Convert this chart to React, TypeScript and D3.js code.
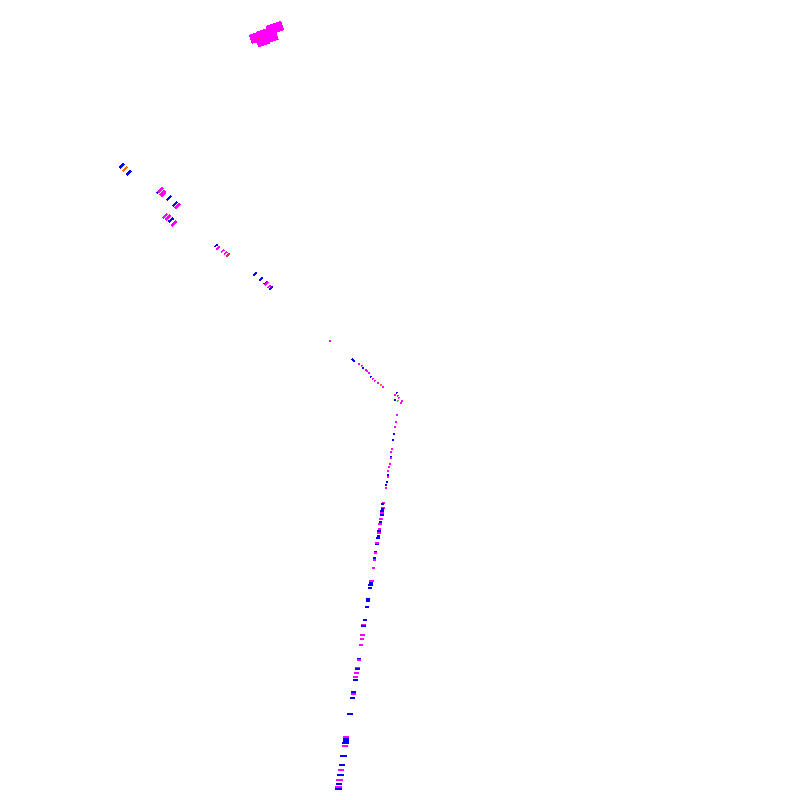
import React from 'react';
import * as d3 from 'd3';

// mark kinds: 0 blue, 1 magenta, 2 orange, 3 red, 4 green
const kindColors = ['#0000ff', '#ff00ff', '#ff6a1a', '#ff2020', '#33cc33'];

// [x, y, kind] along the track, grouped by section
const seg1: [number, number, number][] = [
  [121.7, 165.7, 0], [125, 169, 2], [129, 172.7, 0],
  [159, 191, 0], [160.5, 190, 1], [162.5, 193, 1], [163.5, 194.5, 1], [169, 198, 0],
  [175, 204, 0], [177.5, 206, 1],
  [165, 216, 1], [168, 217.5, 1], [171, 220, 0], [174, 223.5, 1],
];
const seg2: [number, number, number][] = [
  [216, 245.7, 0], [218, 248, 1], [222.7, 251, 1], [225.7, 253, 1], [228, 255, 3],
  [255, 274, 0], [261, 279, 0], [265.7, 282.7, 0], [266.5, 283.5, 1], [269, 286.7, 1], [271, 288, 0],
];
const seg3: [number, number, number][] = [
  [330, 341, 1], [352.7, 359.3, 0], [354, 361, 0],
  [359, 364, 1], [361.7, 366, 1], [363, 368, 0], [365.7, 370, 1], [367, 371, 1], [369, 373, 1],
  [370.7, 376.7, 0], [372.7, 378.7, 1], [375, 380.7, 1], [378, 383, 1], [381, 385, 2], [383, 387, 1],
  [397, 392.7, 0], [395, 395, 1], [398, 395.7, 1], [395, 400, 0], [398.7, 398, 1], [398, 400.7, 4],
  [400.7, 402.7, 1], [401.7, 400.7, 1],
  [397, 415, 1], [396, 422, 1], [395, 427, 1], [394.3, 434, 0], [393.3, 440, 0],
  [392.3, 449, 1], [391.3, 452, 1], [390.7, 456.7, 0], [390.7, 457.8, 1],
  [389.7, 464, 1], [389, 467.3, 1], [388.3, 470.7, 1], [387.7, 475, 0], [387.7, 476.7, 1],
  [386.7, 481.7, 0], [386.3, 485, 0], [385.7, 488.3, 1],
];
const seg4: [number, number, number][] = [
  [383.7, 502.7, 1], [382.7, 504.3, 0], [383, 507.7, 1], [382.7, 508.7, 0], [382, 511, 0],
  [382, 512.7, 1], [382, 514.7, 0], [381, 518.7, 1], [380.7, 522, 0], [380, 524.3, 1],
  [379.3, 528.7, 1], [379, 530.7, 0], [379, 533.3, 1], [378.3, 535.7, 0], [378, 538.3, 0],
  [377, 543.3, 1], [377, 544.5, 0], [375.3, 551.7, 0], [375.3, 553, 1], [374.3, 558.3, 0],
  [374.3, 560, 1], [373.3, 568.3, 1],
];
const seg5: [number, number, number][] = [
  [371.3, 581.3, 1], [371, 583.3, 0], [370.3, 585.3, 0], [370, 588.3, 0], [368, 599.3, 0],
  [368, 601.3, 0], [367, 607.3, 0],
  [365, 620, 0], [363.7, 624.7, 1], [363.7, 625.9, 0], [362.3, 635.3, 1], [362, 639, 1],
  [361, 645.3, 1], [359, 658.7, 0], [359, 659.8, 1], [357.3, 667.7, 1], [357.3, 669, 0],
  [356.3, 672.7, 1], [355.3, 677.3, 1], [355.3, 680, 0], [353.3, 692, 0], [353.3, 694, 1],
  [352.3, 698.3, 0],
];
const seg6: [number, number, number][] = [
  [350, 713.7, 0], [346, 736.7, 1], [346, 739.5, 0], [346, 741, 0], [345.3, 742.7, 0],
  [345, 745.7, 1], [343.3, 755.7, 0], [342, 764.7, 0], [341, 770, 1], [340.3, 775.3, 0],
  [339.3, 780, 1], [339, 783.7, 0], [338.3, 787.3, 1], [338.3, 788.7, 0],
];
const segments = [seg1, seg2, seg3, seg4, seg5, seg6];
const segWeight = [6.5, 4.5, 2.2, 3.4, 4.8, 6.6];

// the big cluster at the top
const blob: [number, number, number][] = [
  [258, 37, 1], [267, 34, 1], [275, 28, 1], [263, 42, 1], [272, 38, 1], [254, 36, 1],
];
const blobWeight = [16, 18, 16, 12, 12, 8];

// rough centre line of the track, used for mark orientation
const guideX = [120, 178, 272, 330, 385, 400, 395, 383, 365, 338];
const guideY = [165, 207, 289, 341, 387, 400, 427, 500, 620, 790];

const W = 800;
const H = 800;

const x = d3.scaleLinear().domain([0, 800]).range([0, W]);
const y = d3.scaleLinear().domain([0, 800]).range([0, H]);
const len = d3.scaleLinear().domain([0, 10]).range([0, 10]);

function angleAt(px: number, py: number): number {
  let best = Infinity;
  let ang = 0;
  for (let i = 0; i < guideX.length - 1; i++) {
    const ax = x(guideX[i]), ay = y(guideY[i]);
    const bx = x(guideX[i + 1]), by = y(guideY[i + 1]);
    const dx = bx - ax, dy = by - ay;
    const t = Math.max(0, Math.min(1, ((px - ax) * dx + (py - ay) * dy) / (dx * dx + dy * dy)));
    const cx = ax + t * dx, cy = ay + t * dy;
    const d = (px - cx) ** 2 + (py - cy) ** 2;
    if (d < best) {
      best = d;
      ang = (Math.atan2(dy, dx) * 180) / Math.PI;
    }
  }
  // marks sit (roughly) across the track
  let a = ang - 90;
  while (a < -90) a += 180;
  while (a > 90) a -= 180;
  a *= 0.85;
  // near-vertical track: keep marks flat
  if (Math.abs(a) < 15) a = 0;
  return a;
}

const App: React.FC = () => {
  return (
    <svg
      width={W}
      height={H}
      style={{ position: 'absolute', left: 0, top: 0, background: '#fff' }}
      shapeRendering="crispEdges"
    >
      <g>
        {blob.map(([bx, by, k], i) => {
          const l = len(blobWeight[i]);
          const t = l * 0.6;
          return (
            <rect
              key={'b' + i}
              x={-l / 2}
              y={-t / 2}
              width={l}
              height={t}
              fill={kindColors[k]}
              transform={`translate(${x(bx)},${y(by)}) rotate(-18)`}
            />
          );
        })}
        <rect x={x(258)} y={y(37.5)} width={2} height={1.5} fill={kindColors[3]} />
      </g>
      {segments.map((seg, si) => {
        const l = len(segWeight[si]);
        const t = si === 0 ? 2.6 : Math.max(1.8, segWeight[si] * 0.33);
        return (
          <g key={si}>
            {seg.map(([mx, my, k], i) => {
              const px = x(mx), py = y(my);
              const a = angleAt(px, py);
              return (
                <rect
                  key={i}
                  x={-l / 2}
                  y={-t / 2}
                  width={l}
                  height={t}
                  fill={kindColors[k]}
                  transform={`translate(${px},${py}) rotate(${a})`}
                />
              );
            })}
          </g>
        );
      })}
    </svg>
  );
};

export default App;
